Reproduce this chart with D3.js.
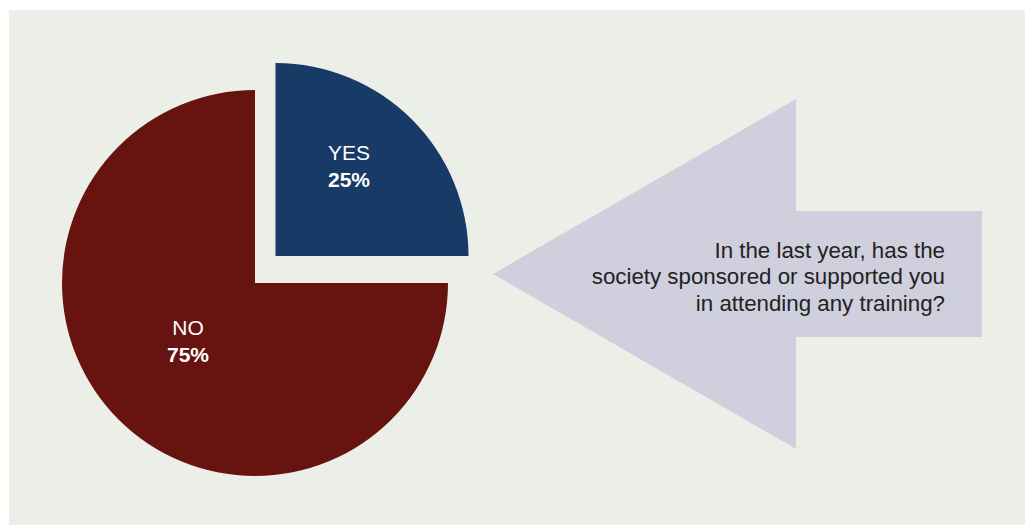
<!DOCTYPE html>
<html><head><meta charset="utf-8">
<script src="https://cdn.jsdelivr.net/npm/d3@7"></script>
<style>html,body{margin:0;padding:0;background:#fff;}svg{display:block;}</style>
</head><body>
<svg id="c" width="1025" height="525"></svg>
<script>
const categories = ["YES", "NO"];
const values = [25, 75];
const valueLabels = ["25%", "75%"];
const colors = ["#173a66", "#67130f"];
const questionLines = ["In the last year, has the", "society sponsored or supported you", "in attending any training?"];

const svg = d3.select("#c");
const font = "'Liberation Sans', Arial, sans-serif";
svg.append("rect").attr("x", 9).attr("y", 10).attr("width", 1016).attr("height", 515).attr("fill", "#eceee8");

// Arrow callout
const arrowPts = [[493, 274], [796, 99], [796, 211], [982, 211], [982, 337], [796, 337], [796, 449]];
svg.append("path").attr("d", d3.line()(arrowPts) + "Z").attr("fill", "#cfcfdd");
const qt = svg.append("text").attr("text-anchor", "end").attr("font-family", font)
  .attr("font-size", 22.3).attr("fill", "#222");
questionLines.forEach((t, i) => qt.append("tspan").attr("x", 945).attr("y", 257.5 + i * 26.5).text(t));

// Pie
const cx = 255, cy = 283, r = 193;
const pie = d3.pie().sort(null).value(d => d.v);
const arcs = pie(categories.map((c, i) => ({c, v: values[i], lab: valueLabels[i], col: colors[i]})));
const arc = d3.arc().innerRadius(0).outerRadius(r);
const explode = [[20.5, -27], [0, 0]];
const g = svg.append("g").attr("transform", `translate(${cx},${cy})`);
// label baselines relative to slice corner
const lblPos = [[73.5, -96], [-67, 52]];
arcs.forEach((a, i) => {
  const sg = g.append("g").attr("transform", `translate(${explode[i][0]},${explode[i][1]})`);
  sg.append("path").attr("d", arc(a)).attr("fill", a.data.col);
  const t = sg.append("text").attr("text-anchor", "middle").attr("font-family", font).attr("fill", "#fff");
  t.append("tspan").attr("x", lblPos[i][0]).attr("y", lblPos[i][1])
    .attr("font-size", 21).attr("font-weight", 300).text(a.data.c);
  t.append("tspan").attr("x", lblPos[i][0]).attr("y", lblPos[i][1] + 27)
    .attr("font-size", 21).attr("font-weight", "bold").text(a.data.lab);
});
</script>
</body></html>
